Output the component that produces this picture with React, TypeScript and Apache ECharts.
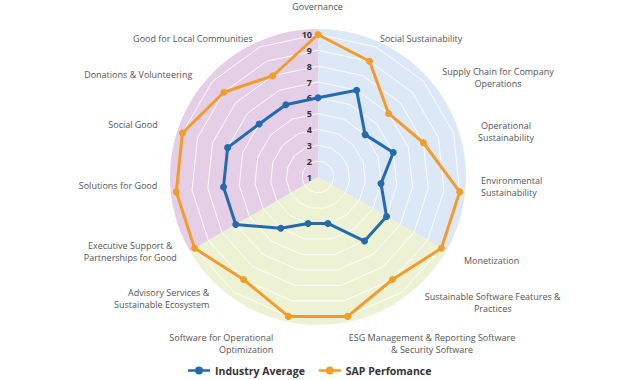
import React, { useEffect, useRef } from "react";
import * as echarts from "echarts";

// Data, clockwise from the top
const categories = [
  "Governance",
  "Social Sustainability",
  "Supply Chain for Company Operations",
  "Operational Sustainability",
  "Environmental Sustainability",
  "Monetization",
  "Sustainable Software Features & Practices",
  "ESG Management & Reporting Software & Security Software",
  "Software for Operational Optimization",
  "Advisory Services & Sustainable Ecosystem",
  "Executive Support & Partnerships for Good",
  "Solutions for Good",
  "Social Good",
  "Donations & Volunteering",
  "Good for Local Communities",
];
const categoryLabels = [
  "Governance",
  "Social Sustainability",
  "Supply Chain for Company\nOperations",
  "Operational\nSustainability",
  "Environmental\nSustainability",
  "Monetization",
  "Sustainable Software Features &\nPractices",
  "ESG Management & Reporting Software\n& Security Software",
  "Software for Operational\nOptimization",
  "Advisory Services &\nSustainable Ecosystem",
  "Executive Support &\nPartnerships for Good",
  "Solutions for Good",
  "Social Good",
  "Donations & Volunteering",
  "Good for Local Communities",
];
const industryAverage = [6, 7, 5, 6, 5, 6, 6, 4, 4, 5, 7, 7, 7, 6, 6];
const sapPerformance = [10, 9, 7, 8, 10, 10, 9, 10, 10, 9, 10, 10, 10, 9, 8];
const seriesNames = ["Industry Average", "SAP Perfomance"];
const scaleMin = 1;
const scaleMax = 10;

// Background sectors (three equal parts, clockwise from the top)
const sectorNames = ["Environment", "Software", "Social"];
const sectorShares = [1, 1, 1];

// Layout of the category labels (anchor x, y and alignment)
const labelLayout: [number, number, string][] = [
  [317.5, 6.5, "center"],
  [380, 38, "left"],
  [498, 77.5, "center"],
  [506, 131, "center"],
  [481, 186.5, "left"],
  [464, 260, "left"],
  [492.7, 302.7, "center"],
  [432, 343.5, "center"],
  [273.3, 343.5, "right"],
  [209.3, 298, "right"],
  [130.3, 251, "center"],
  [157.3, 185.5, "right"],
  [157.7, 124, "right"],
  [192.3, 74.7, "right"],
  [252.7, 38.7, "right"],
];

const BLUE = "#236aae";
const ORANGE = "#f39c2c";
const SECTOR_COLORS = ["#dce8f6", "#eef2d4", "#e5cfe6"];
const FONT = '"Open Sans", "Noto Sans", sans-serif';
const CX = 318;
const CY = 177;

export default function App() {
  const ref = useRef<HTMLDivElement>(null);

  useEffect(() => {
    if (!ref.current) return;
    const chart = echarts.init(ref.current, null, { renderer: "svg" });

    // ECharts radar runs counter-clockwise; reorder so categories run clockwise
    const order = [0, ...categories.map((_, i) => i).slice(1).reverse()];

    const indicator = order.map((i) => {
      const ind: any = { name: categories[i], min: scaleMin, max: scaleMax };
      if (i === 0) {
        ind.axisLabel = {
          show: true,
          color: "#333",
          fontSize: 9,
          fontWeight: "bold",
          fontFamily: FONT,
          margin: 6,
        };
      }
      return ind;
    });

    const option: any = {
      animation: false,
      color: [BLUE, ORANGE],
      legend: {
        data: seriesNames,
        left: 183,
        top: 360,
        itemWidth: 22,
        itemHeight: 8,
        itemGap: 14,
        icon: "path://M0,2.75 L22,2.75 L22,5.25 L0,5.25 Z M7,4 A4,4 0 1,1 15,4 A4,4 0 1,1 7,4 Z",
        textStyle: {
          color: "#333",
          fontSize: 10.5,
          fontWeight: "bold",
          fontFamily: FONT,
        },
        selectedMode: false,
      },
      radar: {
        center: [CX, CY],
        radius: 142.5,
        startAngle: 90,
        shape: "polygon",
        splitNumber: 9,
        z: 1,
        indicator,
        axisName: { show: false },
        axisLine: { show: false },
        axisTick: { show: false },
        axisLabel: { show: false },
        splitArea: { show: false },
        splitLine: { lineStyle: { color: "rgba(255,255,255,0.9)", width: 1 } },
      },
      series: [
        {
          type: "pie",
          silent: true,
          z: 0,
          center: [CX, CY],
          radius: 148,
          startAngle: 90,
          clockwise: true,
          label: { show: false },
          labelLine: { show: false },
          emphasis: { disabled: true },
          data: sectorNames.map((n, i) => ({
            name: n,
            value: sectorShares[i],
            itemStyle: { color: SECTOR_COLORS[i] },
          })),
        },
        {
          type: "radar",
          z: 2,
          symbol: "circle",
          symbolSize: 7,
          data: [
            {
              name: seriesNames[0],
              value: order.map((i) => industryAverage[i]),
              itemStyle: { color: BLUE },
              lineStyle: { color: BLUE, width: 3 },
            },
            {
              name: seriesNames[1],
              value: order.map((i) => sapPerformance[i]),
              itemStyle: { color: ORANGE },
              lineStyle: { color: ORANGE, width: 3 },
            },
          ],
        },
      ],
      graphic: categoryLabels.map((t, i) => ({
        type: "text",
        silent: true,
        x: labelLayout[i][0],
        y: labelLayout[i][1],
        style: {
          text: t,
          align: labelLayout[i][2],
          verticalAlign: "middle",
          fill: "#555",
          fontSize: 9,
          fontFamily: FONT,
          lineHeight: 12,
        },
      })),
    };

    chart.setOption(option);
    return () => chart.dispose();
  }, []);

  return (
    <div
      ref={ref}
      style={{ position: "absolute", left: 0, top: 0, width: 640, height: 380 }}
    />
  );
}
